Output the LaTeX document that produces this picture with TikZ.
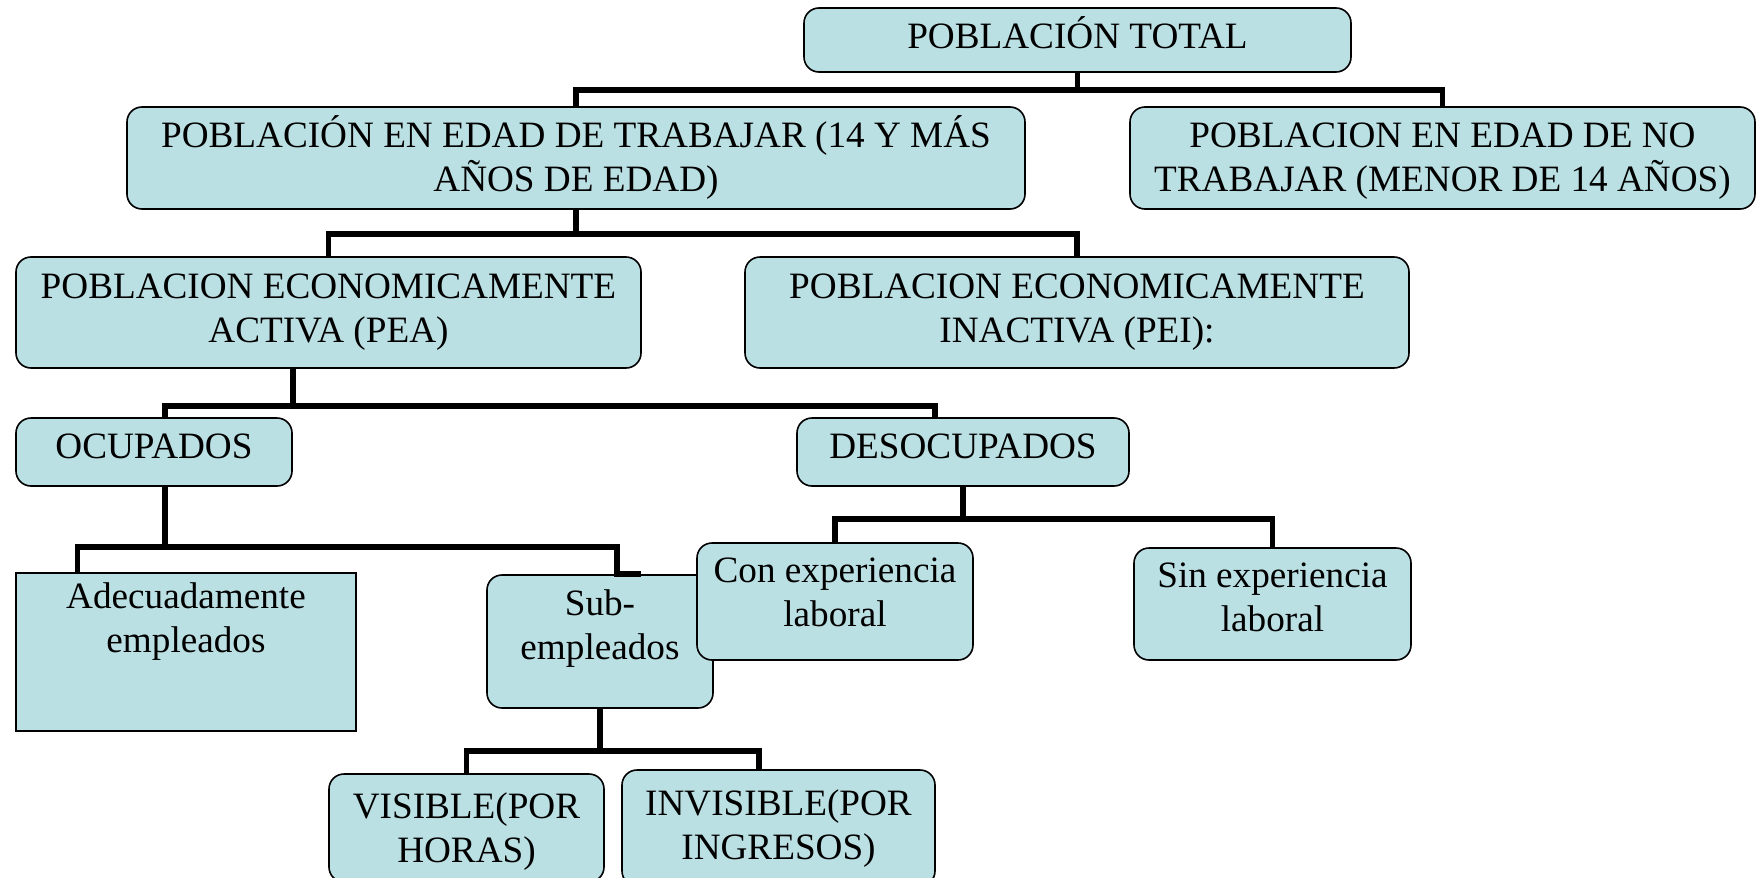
\documentclass[tikz,border=0pt]{standalone}
\usepackage{fontspec}
\setmainfont{Liberation Serif}
\definecolor{cajafill}{RGB}{187,224,227}
\begin{document}
\begin{tikzpicture}[x=0.5pt, y=0.5pt,
	caja/.style={draw=black, line width=0.8pt, fill=cajafill, rounded corners=7.5pt, align=flush center, inner sep=0pt, text height=12.3pt, font=\fontsize{18.6}{22}\selectfont},
	conector/.style={line width=2.9pt}]
	\useasboundingbox (0,0) rectangle (1762,-878);
	% level 1 and 2
	\node[caja, text width=273.5pt, minimum height=32pt, text depth=4.3pt] (tot) at (1077.5,-40) {POBLACIÓN TOTAL};
	\node[caja, text width=449pt, minimum height=51pt, text depth=23.3pt] (pet) at (576,-158) {POBLACIÓN EN EDAD DE TRABAJAR (14 Y MÁS\\AÑOS DE EDAD)};
	\node[caja, text width=312.5pt, minimum height=51pt, text depth=23.3pt] (nopet) at (1442.5,-158) {POBLACION EN EDAD DE NO\\TRABAJAR (MENOR DE 14 AÑOS)};
	% level 3
	\node[caja, text width=312.5pt, minimum height=55.5pt, text depth=26.8pt] (pea) at (328.5,-312.5) {POBLACION ECONOMICAMENTE\\ACTIVA (PEA)};
	\node[caja, text width=332pt, minimum height=55.5pt, text depth=26.8pt] (pei) at (1077,-312.5) {POBLACION ECONOMICAMENTE\\INACTIVA (PEI):};
	% level 4
	\node[caja, text width=138pt, minimum height=34pt, text depth=6.3pt] (ocu) at (154,-452) {OCUPADOS};
	\node[caja, text width=166pt, minimum height=34pt, text depth=6.3pt] (des) at (963,-452) {DESOCUPADOS};
	% level 5
	\node[caja, sharp corners, text width=170pt, minimum height=79pt, text depth=56.3pt] (ade) at (186,-652) {Adecuadamente\\empleados};
	\node[caja, text width=113pt, minimum height=66.5pt, text depth=38.8pt] (sub) at (600,-641.5) {Sub-\\empleados};
	\node[caja, text width=138pt, minimum height=58.5pt, text depth=31.8pt] (con) at (835,-601.5) {Con experiencia\\laboral};
	\node[caja, text width=138.5pt, minimum height=56pt, text depth=29.3pt] (sin) at (1272.5,-604) {Sin experiencia\\laboral};
	% level 6
	\node[caja, text width=137.5pt, minimum height=54pt, text depth=22.3pt] (vis) at (466.5,-828) {VISIBLE(POR\\HORAS)};
	\node[caja, text width=156.5pt, minimum height=58pt, text depth=25.3pt] (inv) at (778.5,-828) {INVISIBLE(POR\\INGRESOS)};
	% connectors
	\draw[conector] (tot.south) -- ++(0,-17.5) -| (pet.north);
	\draw[conector] (tot.south) -- ++(0,-17.5) -| (nopet.north);
	\draw[conector] (pet.south) -- ++(0,-24.5) -| (pea.north);
	\draw[conector] (pet.south) -- ++(0,-24.5) -| (pei.north);
	\draw[conector] ([xshift=-17.75pt]pea.south) -- ++(0,-37.5) -| ([xshift=5.5pt]ocu.north);
	\draw[conector] ([xshift=-17.75pt]pea.south) -- ++(0,-37.5) -| ([xshift=-14pt]des.north);
	\draw[conector] ([xshift=5.5pt]ocu.south) -- ++(0,-60) -| ([xshift=-54.25pt]ade.north);
	\draw[conector] ([xshift=5.5pt]ocu.south) -- ++(0,-60) -| ([xshift=8.5pt]sub.north) -- ++(24,0);
	\draw[conector] (des.south) -- ++(0,-32) -| (con.north);
	\draw[conector] (des.south) -- ++(0,-32) -| (sin.north);
	\draw[conector] (sub.south) -- ++(0,-42) -| (vis.north);
	\draw[conector] (sub.south) -- ++(0,-42) -| ([xshift=-9.75pt]inv.north);
\end{tikzpicture}
\end{document}
